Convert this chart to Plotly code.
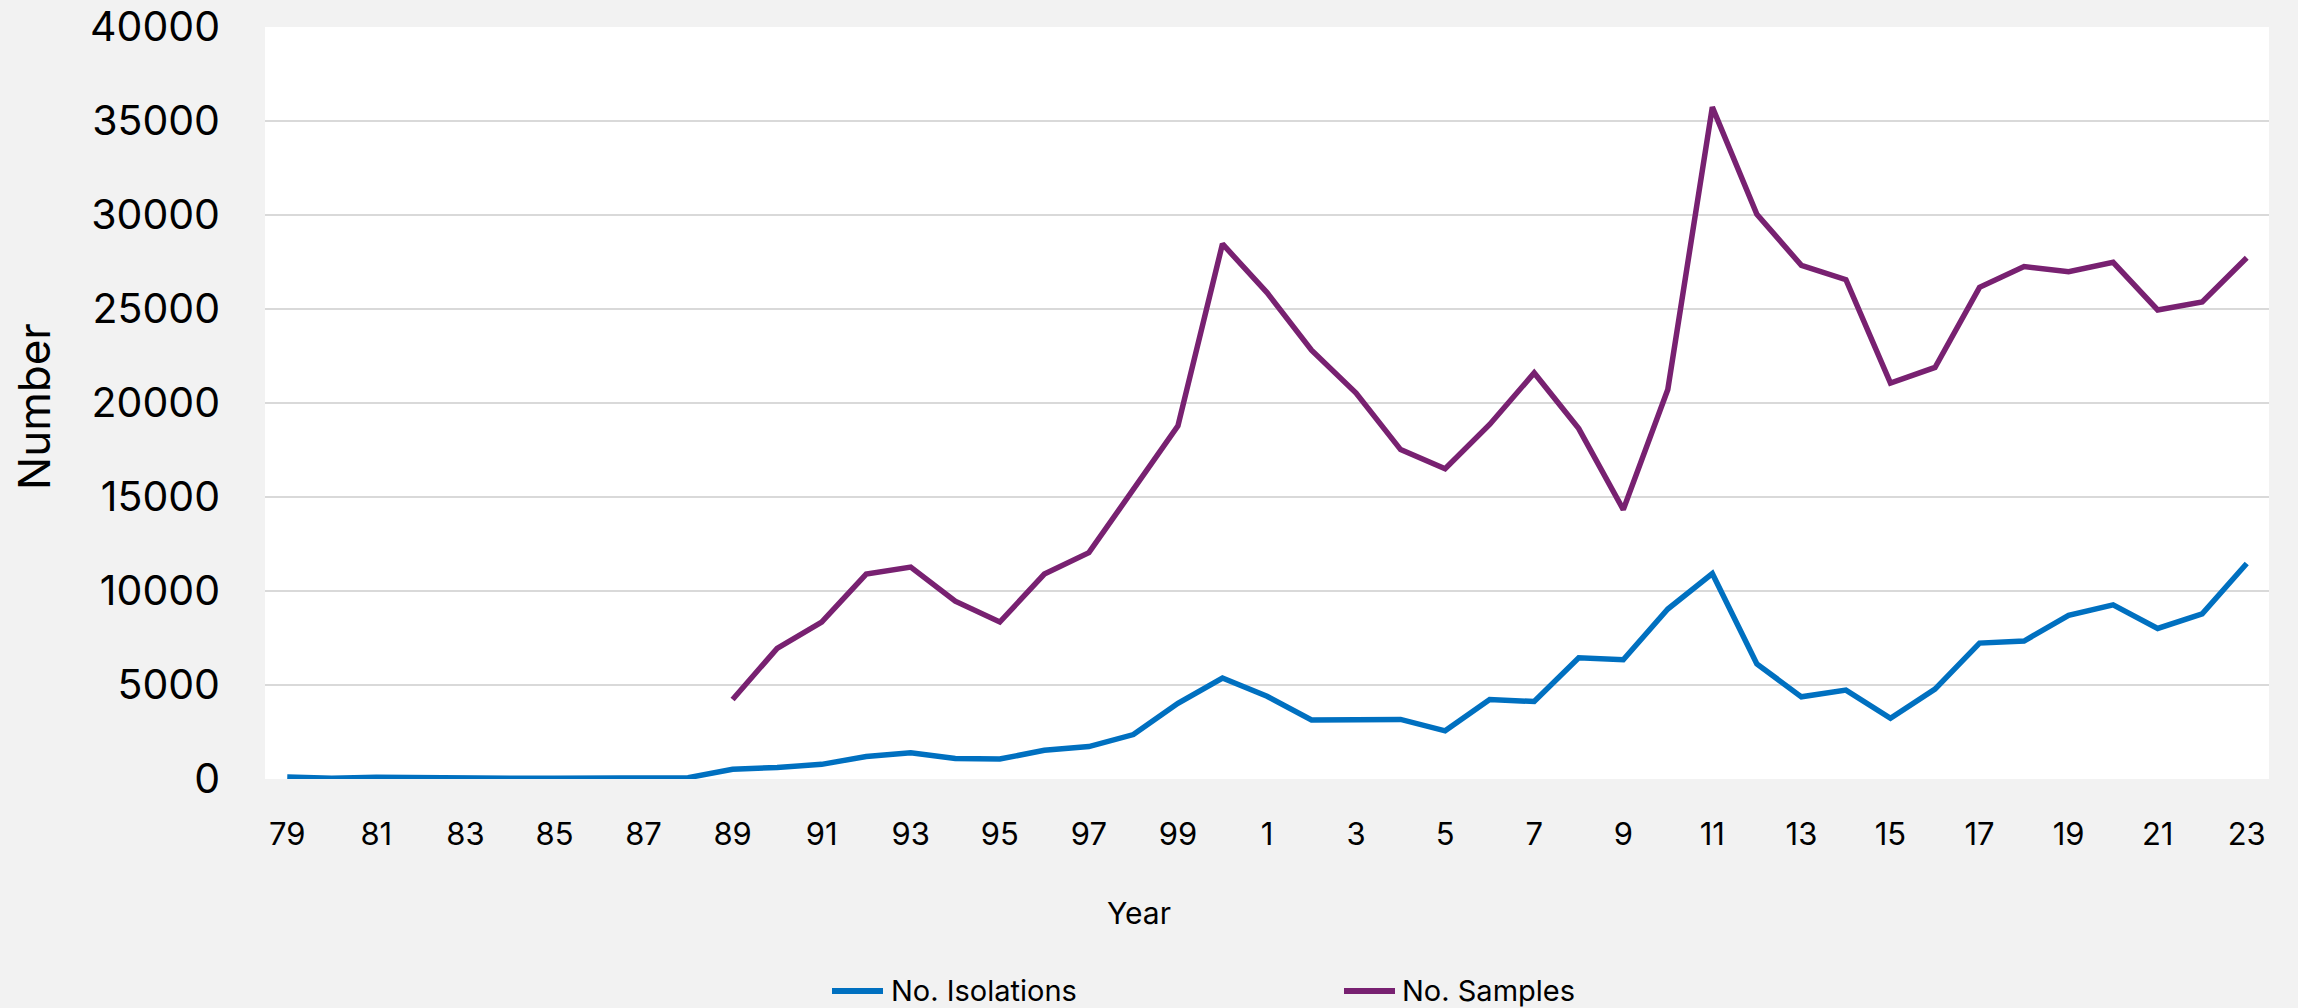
import plotly.graph_objects as go

years = list(range(1979, 2024))
isolations = [100, 40, 90, 50, 50, 40, 40, 50, 60, 70,
              520, 610, 780, 1200, 1390, 1085, 1060, 1530, 1725, 2365,
              4030, 5370, 4400, 3140, 3150, 3170, 2560, 4230, 4120, 6450,
              6340, 9040, 10930, 6120, 4370, 4730, 3230, 4780, 7230, 7340,
              8710, 9260, 8010, 8790, 11460]
samples = [None] * 10 + [4230, 6950, 8350, 10900, 11270, 9460, 8350, 10900, 12040, 15440,
                         18780, 28460, 25870, 22810, 20530, 17520, 16500, 18860, 21600, 18640,
                         14330, 20720, 35740, 30040, 27320, 26560, 21060, 21890, 26150, 27260,
                         26980, 27480, 24950, 25370, 27730]
tick_years = list(range(1979, 2024, 2))
tick_labels = ["79", "81", "83", "85", "87", "89", "91", "93", "95", "97", "99",
               "1", "3", "5", "7", "9", "11", "13", "15", "17", "19", "21", "23"]
y_ticks = list(range(0, 40001, 5000))
series_names = ["No. Isolations", "No. Samples"]

BLUE = "#0070C0"
PURPLE = "#782171"
FONT = "Inter"

W, H = 2298, 1008
L, R, T, B = 265, 29, 27, 229
PW, PH = W - L - R, H - T - B


def px_x(p):
    return (p - L) / PW


def px_y(p):
    return 1 - (p - T) / PH


fig = go.Figure()
fig.add_trace(go.Scatter(x=years, y=isolations, mode="lines", name=series_names[0],
                         line=dict(color=BLUE, width=5.5), showlegend=False))
fig.add_trace(go.Scatter(x=years, y=samples, mode="lines", name=series_names[1],
                         line=dict(color=PURPLE, width=5.5), showlegend=False))

# manual legend (line samples + labels)
legend_items = [(829, 886, 890, BLUE, series_names[0]),
                (1341, 1398, 1401, PURPLE, series_names[1])]
LEG_Y = 990
shapes = []
annotations = []
for x0, x1, tx, col, name in legend_items:
    shapes.append(dict(type="line", xref="paper", yref="paper",
                       x0=px_x(x0 + 3), x1=px_x(x1 - 3), y0=px_y(LEG_Y + 1), y1=px_y(LEG_Y + 1),
                       line=dict(color=col, width=6)))
    annotations.append(dict(text=name, xref="paper", yref="paper",
                            x=px_x(tx), y=px_y(LEG_Y), xanchor="left", yanchor="middle",
                            showarrow=False, borderpad=0,
                            font=dict(size=29, family=FONT)))

annotations += [
    dict(text="Year", xref="paper", yref="paper",
         x=px_x(1139), y=px_y(913),
         xanchor="center", yanchor="middle", showarrow=False,
         font=dict(size=30, family=FONT)),
    dict(text="Number", xref="paper", yref="paper",
         x=px_x(34), y=px_y(407),
         xanchor="center", yanchor="middle", textangle=-90, showarrow=False,
         font=dict(size=44, family=FONT)),
]

fig.update_layout(
    width=W, height=H,
    margin=dict(l=L, r=R, t=T, b=B, pad=0, autoexpand=False),
    paper_bgcolor="#F2F2F2",
    plot_bgcolor="#FFFFFF",
    font=dict(family=FONT, color="#000000"),
    showlegend=False,
    xaxis=dict(range=[1978.5, 2023.5], tickmode="array", tickvals=tick_years,
               ticktext=tick_labels, showgrid=False, zeroline=False, showline=False,
               ticks="", tickfont=dict(size=31, family=FONT), ticklabelstandoff=34,
               automargin=False),
    yaxis=dict(range=[0, 40000], tickmode="array", tickvals=y_ticks, tickformat="d",
               showgrid=True, gridcolor="#D9D9D9", gridwidth=2, zeroline=False,
               showline=False, ticks="", tickfont=dict(size=41, family=FONT),
               ticklabelstandoff=44, automargin=False),
    shapes=shapes,
    annotations=annotations,
)

fig.write_html("out.html")
